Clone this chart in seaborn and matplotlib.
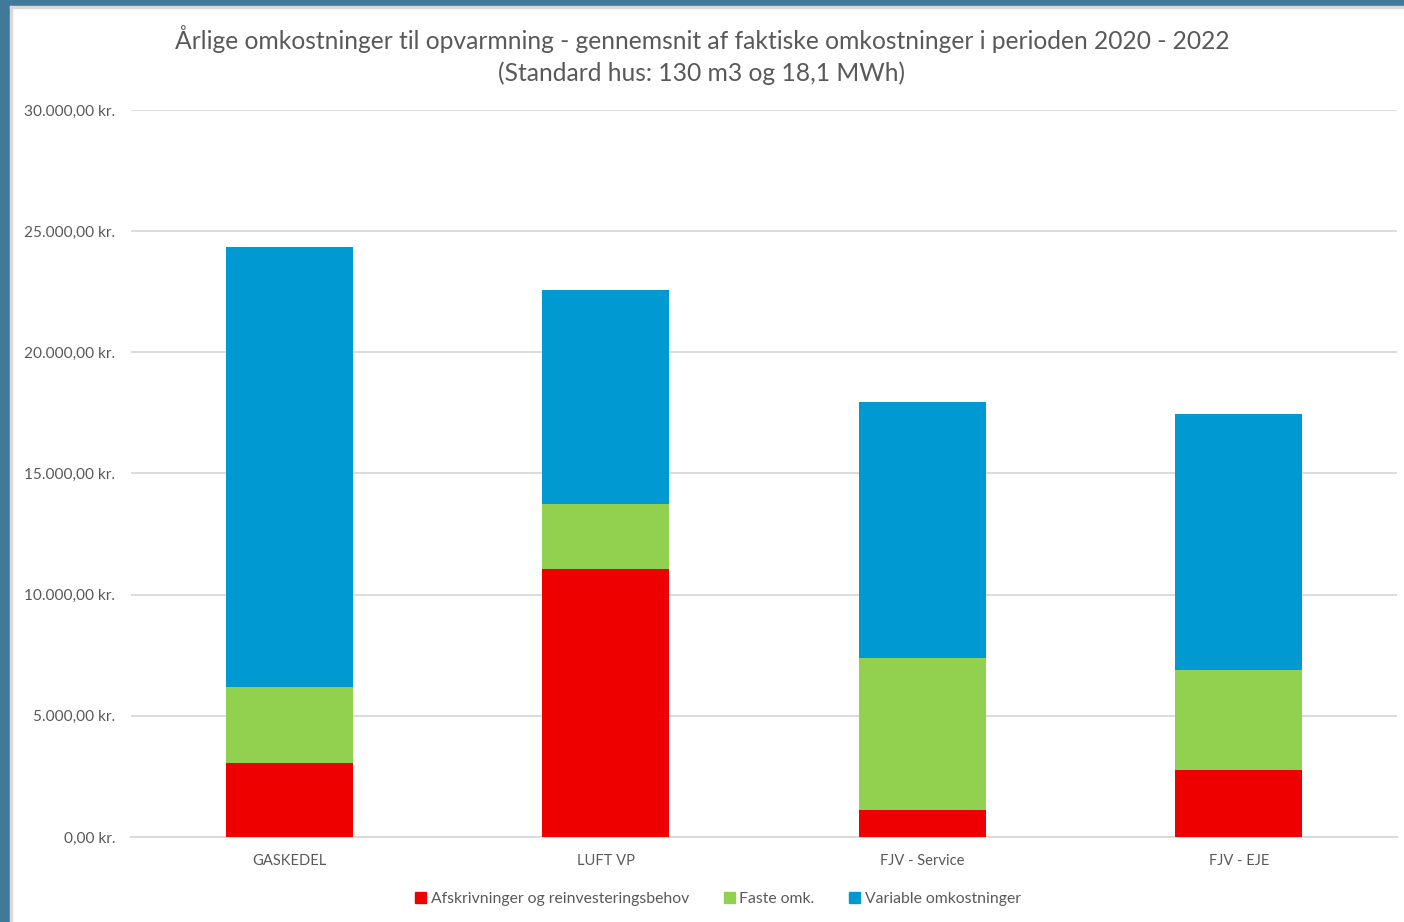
import matplotlib
matplotlib.use("Agg")
import matplotlib.pyplot as plt
import matplotlib.patches as mpatches
import matplotlib.ticker as mticker
import seaborn as sns
import numpy as np
import pandas as pd

categories = ["GASKEDEL", "LUFT VP", "FJV - Service", "FJV - EJE"]
afskrivninger = [3050, 11060, 1110, 2770]
faste = [3140, 2680, 6280, 4120]
variable = [18160, 8830, 10560, 10570]
series_names = ["Afskrivninger og reinvesteringsbehov", "Faste omk.", "Variable omkostninger"]
colors = ["#EE0000", "#92D050", "#0099D1"]
title = "Årlige omkostninger til opvarmning - gennemsnit af faktiske omkostninger i perioden 2020 - 2022\n(Standard hus: 130 m3 og 18,1 MWh)"

sns.set_style("white")
plt.rcParams['font.family'] = ['Lato', 'DejaVu Sans']

df = pd.DataFrame({"cat": categories,
                   "a": afskrivninger, "f": faste, "v": variable})
df["c1"] = df["a"]
df["c2"] = df["a"] + df["f"]
df["c3"] = df["a"] + df["f"] + df["v"]

fig = plt.figure(figsize=(14.04, 9.22), dpi=100)
# frame decoration
fig.patches.append(mpatches.Rectangle((0, 0), 10/1404, 1, transform=fig.transFigure, color="#41799A", zorder=0))
fig.patches.append(mpatches.Rectangle((0, 1-6/922), 1, 6/922, transform=fig.transFigure, color="#41799A", zorder=0))
fig.patches.append(mpatches.Rectangle((10/1404, 0), 2/1404, 1-6/922, transform=fig.transFigure, color="#D9D9D9", zorder=0))
fig.patches.append(mpatches.Rectangle((10/1404, 1-8/922), 1, 2/922, transform=fig.transFigure, color="#D9D9D9", zorder=0))

ax = fig.add_axes([131/1404, 1-837/922, (1397-131)/1404, (837-110)/922])

for col, c in zip(["c3", "c2", "c1"], colors[::-1]):
    sns.barplot(data=df, x="cat", y=col, color=c, width=0.4, ax=ax,
                saturation=1, linewidth=0, zorder=3)

ax.set_ylim(0, 30000)
ax.set_xlim(-0.5, 3.5)
ax.set_yticks(np.arange(0, 30001, 5000))

def fmt(v, pos):
    s = f"{v:,.2f}".replace(",", "X").replace(".", ",").replace("X", ".")
    return s + " kr."
ax.yaxis.set_major_formatter(mticker.FuncFormatter(fmt))
ax.grid(axis="y", color="#D9D9D9", linewidth=1.3, zorder=0)
ax.set_axisbelow(True)
for s in ["top", "right", "left"]:
    ax.spines[s].set_visible(False)
ax.spines["bottom"].set_color("#D9D9D9")
ax.spines["bottom"].set_linewidth(1.3)
ax.set_xlabel("")
ax.set_ylabel("")
ax.tick_params(axis="y", length=0, labelcolor="#595959", labelsize=11.1, pad=11.5)
ax.tick_params(axis="x", length=0, labelcolor="#595959", labelsize=10.6, pad=12)

fig.text(0.5, 1-55/922, title, ha="center", va="center", fontsize=17.7,
         color="#595959", linespacing=1.45)

handles = [mpatches.Patch(color=c, label=n) for c, n in zip(colors, series_names)]
fig.legend(handles=handles, loc="center", bbox_to_anchor=(718/1404, 1-899/922), ncol=3,
           frameon=False, fontsize=11.3, handlelength=0.7, handleheight=0.7,
           handletextpad=0.3, columnspacing=2.2, labelcolor="#595959")

fig.savefig("out.png", dpi=100)
